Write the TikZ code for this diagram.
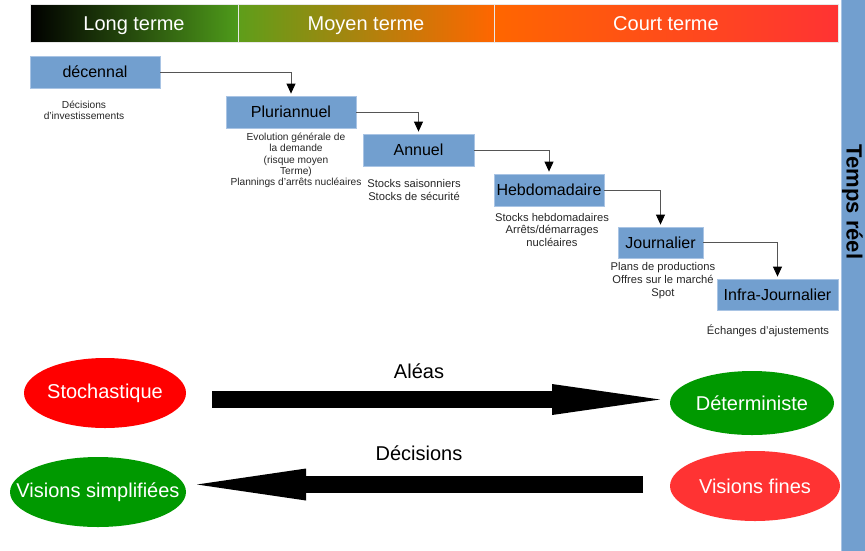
\documentclass[tikz,border=0pt]{standalone}
\usepackage{fontspec}
\setmainfont{Liberation Sans}
\usetikzlibrary{shapes.geometric,arrows.meta}
\definecolor{boxblue}{HTML}{729FCF}
\definecolor{boxline}{HTML}{A9C4E4}
\definecolor{hgreen}{HTML}{4E9A1A}
\definecolor{hgreenb}{HTML}{5E9E1A}
\definecolor{horange}{HTML}{FF6600}
\definecolor{hred}{HTML}{FF3333}
\definecolor{elred}{HTML}{FF0000}
\definecolor{elgreen}{HTML}{009900}
\definecolor{elredb}{HTML}{FF3333}
\definecolor{connc}{HTML}{555555}
\begin{document}
\begin{tikzpicture}[x=1pt,y=-1pt,
  tbox/.style={draw=boxline, line width=0.8pt, fill=boxblue, inner sep=0pt, font=\fontsize{16}{19}\selectfont, text=black},
  note/.style={align=center, inner sep=0pt, font=\fontsize{11.2}{13}\selectfont, text=black!85},
  notesm/.style={align=center, inner sep=0pt, font=\fontsize{10.2}{11.3}\selectfont, text=black!85},
  conn/.style={draw=connc, line width=0.8pt, shorten >=2pt, -{Triangle[length=10pt,width=9pt,color=black,fill=black]}},
  oval/.style={ellipse, inner sep=0pt},
  ovaltext/.style={text=white, font=\fontsize{20}{24}\selectfont, inner sep=0pt},
  bigarrow/.style={draw=black, line width=17pt},
  head/.style={draw=white!82!gray, line width=0.7pt, text=white, font=\fontsize{20}{24}\selectfont, inner sep=0pt, minimum height=38pt, text height=16pt, text depth=2pt},
  lbl/.style={font=\fontsize{20}{24}\selectfont, inner sep=0pt}
]
\useasboundingbox (0,0) rectangle (865,550);

% header
\node[head, left color=black, right color=hgreen, minimum width=208pt] (lt) at (134,23) {Long terme};
\node[head, left color=hgreenb, right color=horange, minimum width=256pt] (mt) at (366,23) {Moyen terme};
\node[head, left color=horange, right color=hred, minimum width=344pt] (ct) at (666,23) {Court terme};

% real-time bar
\node[fill=boxblue, draw=boxline, line width=0.7pt, minimum width=25pt, minimum height=552pt, inner sep=0pt, anchor=north west] (bar) at (841,-1) {};
\node[rotate=-90, font=\bfseries\fontsize{22}{26}\selectfont, inner sep=0pt] (tr) at (852.5,202) {Temps réel};

% time-scale boxes
\node[tbox, minimum width=130pt, minimum height=32pt] (dec) at (95,72) {décennal};
\node[tbox, minimum width=130pt, minimum height=32pt] (plu) at (291,112) {Pluriannuel};
\node[tbox, minimum width=111pt, minimum height=32pt] (ann) at (418.5,150) {Annuel};
\node[tbox, minimum width=110pt, minimum height=32pt] (heb) at (549,190) {Hebdomadaire};
\node[tbox, minimum width=85pt, minimum height=31pt] (jou) at (660.5,242.5) {Journalier};
\node[tbox, minimum width=121pt, minimum height=31pt] (inf) at (777.5,294.5) {Infra-Journalier};

\draw[conn] (dec.east) -| (plu.north);
\draw[conn] (plu.east) -| (ann.north);
\draw[conn] (ann.east) -| (heb.north);
\draw[conn] (heb.east) -| (jou.north);
\draw[conn] (jou.east) -| (inf.north);

% notes
\node[notesm] (n1) at (84,110) {Décisions\\d’investissements};
\node[notesm] (n2) at (296,160.5) {Evolution générale de\\la demande\\(risque moyen\\Terme)\\Plannings d’arrêts nucléaires};
\node[note] (n3) at (414,189.5) {Stocks saisonniers\\Stocks de sécurité};
\node[note, font=\fontsize{11.2}{12.5}\selectfont] (n4) at (552,229.5) {Stocks hebdomadaires\\Arrêts/démarrages\\nucléaires};
\node[note] (n5) at (663,281) {Plans de productions\\Offres sur le marché\\Spot};
\node[note] (n6) at (768,331) {Échanges d’ajustements};

% ellipses
\node[oval, fill=elred, minimum width=162pt, minimum height=70pt, label={[ovaltext]center:Stochastique}] (sto) at (105,393) {};
\node[oval, fill=elgreen, minimum width=164pt, minimum height=64pt, label={[ovaltext]center:Déterministe}] (det) at (752,403) {};
\node[oval, fill=elgreen, minimum width=176pt, minimum height=70pt, label={[ovaltext]center:Visions simplifiées}] (vs) at (98,492) {};
\node[oval, fill=elredb, minimum width=170pt, minimum height=70pt, label={[ovaltext]center:Visions fines}] (vf) at (755,486) {};

% big arrows
\coordinate (a1s) at (212,399.5);
\coordinate (a1e) at (660,399.5);
\coordinate (a2s) at (643,484.5);
\coordinate (a2e) at (197,484.5);
\draw[bigarrow, -{Triangle[length=108pt,width=31pt,line width=0pt]}] (a1s) -- (a1e);
\draw[bigarrow, -{Triangle[length=109pt,width=32pt,line width=0pt]}] (a2s) -- (a2e);
\node[lbl] (al) at (419,371) {Aléas};
\node[lbl] (de) at (419,453) {Décisions};
\end{tikzpicture}
\end{document}
